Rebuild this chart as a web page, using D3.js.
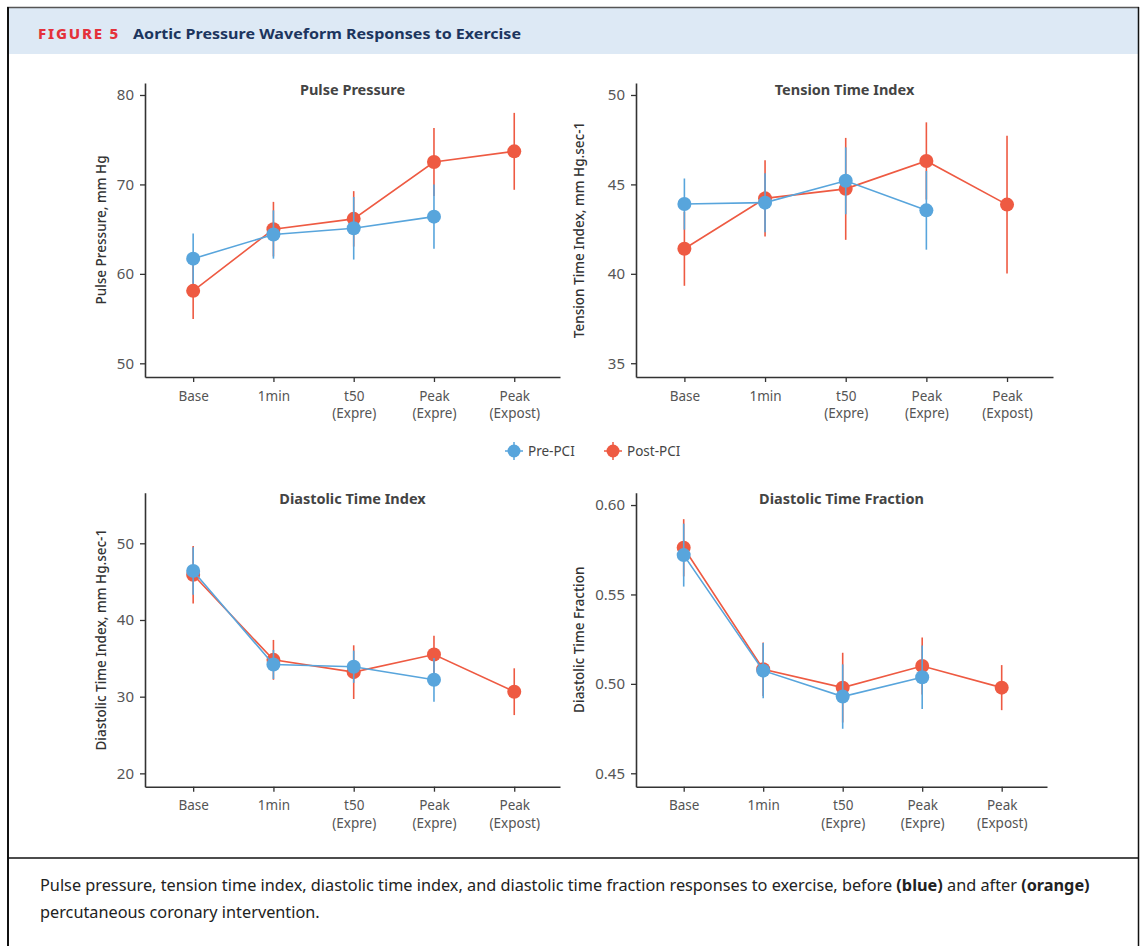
<!DOCTYPE html>
<html>
<head>
<meta charset="utf-8">
<script src="https://cdn.jsdelivr.net/npm/d3@7"></script>
<style>
  html, body { margin: 0; padding: 0; background: #fff; }
  svg { display: block; }
  text { font-family: "Noto Sans", "Open Sans", sans-serif; }
</style>
</head>
<body>
<svg id="fig" width="1142" height="946"></svg>
<script>
// Time points of the exercise protocol
const categories = ["Base", "1min", "t50\n(Expre)", "Peak\n(Expre)", "Peak\n(Expost)"];

// Pulse pressure (mm Hg): mean and error half-width
const ppPre      = [61.7, 64.4, 65.1, 66.4, null];
const ppPreErr   = [2.8, 2.7, 3.5, 3.6, null];
const ppPost     = [58.1, 65.0, 66.15, 72.5, 73.7];
const ppPostErr  = [3.15, 3.05, 3.1, 3.8, 4.3];

// Tension time index (mm Hg.sec-1)
const ttiPre     = [43.9, 43.98, 45.2, 43.55, null];
const ttiPreErr  = [1.43, 1.65, 1.87, 2.2, null];
const ttiPost    = [41.4, 44.22, 44.75, 46.31, 43.87];
const ttiPostErr = [2.07, 2.13, 2.85, 2.16, 3.85];

// Diastolic time index (mm Hg.sec-1)
const dtiPre     = [46.4, 34.2, 33.9, 32.2, null];
const dtiPreErr  = [3.1, 1.9, 2.1, 2.85, null];
const dtiPost    = [45.9, 34.8, 33.2, 35.5, 30.65];
const dtiPostErr = [3.75, 2.6, 3.5, 2.45, 3.05];

// Diastolic time fraction
const dtfPre     = [0.572, 0.5074, 0.4929, 0.5037, null];
const dtfPreErr  = [0.0176, 0.0154, 0.018, 0.0177, null];
const dtfPost    = [0.5761, 0.5082, 0.4979, 0.5100, 0.4979];
const dtfPostErr = [0.016, 0.015, 0.0195, 0.016, 0.0126];

// Axis ticks per panel
const ppTicks  = [50, 60, 70, 80];
const ttiTicks = [35, 40, 45, 50];
const dtiTicks = [20, 30, 40, 50];
const dtfTicks = [0.45, 0.50, 0.55, 0.60];

const seriesNames = ["Pre-PCI", "Post-PCI"];
const BLUE = "#58a5dc";
const RED  = "#ee5a42";

const svg = d3.select("#fig");

// ---------- frame and header ----------
svg.append("rect").attr("x", 8).attr("y", 8).attr("width", 1130).attr("height", 46)
  .attr("fill", "#dde9f5");
svg.append("line").attr("x1", 7).attr("x2", 1139).attr("y1", 7.5).attr("y2", 7.5)
  .attr("stroke", "#555").attr("stroke-width", 1.5);
svg.append("line").attr("x1", 8).attr("x2", 8).attr("y1", 7).attr("y2", 946)
  .attr("stroke", "#111").attr("stroke-width", 2);
svg.append("line").attr("x1", 1138.5).attr("x2", 1138.5).attr("y1", 7).attr("y2", 946)
  .attr("stroke", "#111").attr("stroke-width", 1.5);
svg.append("line").attr("x1", 8).attr("x2", 1139).attr("y1", 858).attr("y2", 858)
  .attr("stroke", "#111").attr("stroke-width", 1.5);

svg.append("text").attr("x", 38).attr("y", 38.5)
  .attr("fill", "#e4313b").attr("font-weight", 800).attr("font-size", 13.5)
  .attr("letter-spacing", 1.6)
  .attr("textLength", 82).attr("lengthAdjust", "spacingAndGlyphs")
  .text("FIGURE 5");
svg.append("text").attr("x", 133).attr("y", 38.5)
  .attr("fill", "#1c355e").attr("font-weight", 700).attr("font-size", 15)
  .attr("textLength", 388).attr("lengthAdjust", "spacingAndGlyphs")
  .text("Aortic Pressure Waveform Responses to Exercise");

// ---------- panels ----------
const panels = [
  { title: "Pulse Pressure", ylabel: "Pulse Pressure, mm Hg",
    pre: ppPre, preErr: ppPreErr, post: ppPost, postErr: ppPostErr,
    ticks: ppTicks, fmt: d3.format("d"), domain: [48.47, 81.34],
    x0: 145, x1: 560, y0: 83, y1: 377, labelX: 101 },
  { title: "Tension Time Index", ylabel: "Tension Time Index, mm Hg.sec-1",
    pre: ttiPre, preErr: ttiPreErr, post: ttiPost, postErr: ttiPostErr,
    ticks: ttiTicks, fmt: d3.format("d"), domain: [34.23, 50.67],
    x0: 636, x1: 1053, y0: 83, y1: 377, labelX: 579 },
  { title: "Diastolic Time Index", ylabel: "Diastolic Time Index, mm Hg.sec-1",
    pre: dtiPre, preErr: dtiPreErr, post: dtiPost, postErr: dtiPostErr,
    ticks: dtiTicks, fmt: d3.format("d"), domain: [18.26, 56.6],
    x0: 145, x1: 560, y0: 492.7, y1: 786.7, labelX: 101 },
  { title: "Diastolic Time Fraction", ylabel: "Diastolic Time Fraction",
    pre: dtfPre, preErr: dtfPreErr, post: dtfPost, postErr: dtfPostErr,
    ticks: dtfTicks, fmt: d3.format(".2f"), domain: [0.4425, 0.6069],
    x0: 636, x1: 1047, y0: 492.7, y1: 786.7, labelX: 579 }
];

panels.forEach(p => {
  const g = svg.append("g");
  const x = d3.scaleLinear().domain([-0.6, 4.57]).range([p.x0, p.x1]);
  const y = d3.scaleLinear().domain(p.domain).range([p.y1, p.y0]);

  // y axis
  const ya = g.append("g").attr("transform", `translate(${p.x0},0)`)
    .call(d3.axisLeft(y).tickValues(p.ticks).tickFormat(p.fmt).tickSize(5).tickSizeOuter(0).tickPadding(6));
  ya.select(".domain").attr("stroke", "#333").attr("stroke-width", 1.6);
  ya.selectAll(".tick line").attr("stroke", "#333").attr("stroke-width", 1.3);
  ya.selectAll(".tick text").attr("fill", "#555").attr("font-size", 15)
    .attr("font-family", "\"Noto Sans\", sans-serif");

  // x axis
  const xa = g.append("g").attr("transform", `translate(0,${p.y1})`)
    .call(d3.axisBottom(x).tickValues(d3.range(categories.length)).tickFormat(i => categories[i])
      .tickSize(5).tickSizeOuter(0).tickPadding(9));
  xa.select(".domain").attr("stroke", "#333").attr("stroke-width", 1.6);
  xa.selectAll(".tick line").attr("stroke", "#333").attr("stroke-width", 1.3);
  xa.selectAll(".tick text").each(function (i) {
    const t = d3.select(this);
    const lines = categories[i].split("\n");
    t.text(null).attr("fill", "#555").attr("font-size", 13.5)
      .attr("font-family", "\"Noto Sans\", sans-serif");
    lines.forEach((s, k) => {
      t.append("tspan").attr("x", 0).attr("dy", k === 0 ? "0.71em" : "1.3em").text(s);
    });
  });

  // titles
  g.append("text").attr("x", (p.x0 + p.x1) / 2).attr("y", p.y0 + 11.5)
    .attr("text-anchor", "middle").attr("fill", "#444")
    .attr("font-weight", 700).attr("font-size", 14.5).text(p.title);
  g.append("text")
    .attr("transform", `translate(${p.labelX},${(p.y0 + p.y1) / 2}) rotate(-90)`)
    .attr("text-anchor", "middle").attr("dominant-baseline", "central")
    .attr("fill", "#333").attr("font-weight", 500).attr("font-size", 13.5).text(p.ylabel);

  // series: Post first, Pre drawn over it
  const series = [
    { vals: p.post, err: p.postErr, color: RED },
    { vals: p.pre, err: p.preErr, color: BLUE }
  ];
  series.forEach(s => {
    const pts = s.vals.map((v, i) => ({ i, v, e: s.err[i] })).filter(d => d.v !== null);
    const sg = g.append("g");
    sg.selectAll("line.err").data(pts).join("line").attr("class", "err")
      .attr("x1", d => x(d.i)).attr("x2", d => x(d.i))
      .attr("y1", d => y(d.v - d.e)).attr("y2", d => y(d.v + d.e))
      .attr("stroke", s.color).attr("stroke-width", 1.6);
    sg.append("path").datum(pts)
      .attr("d", d3.line().x(d => x(d.i)).y(d => y(d.v)))
      .attr("fill", "none").attr("stroke", s.color).attr("stroke-width", 1.6);
    sg.selectAll("circle").data(pts).join("circle")
      .attr("cx", d => x(d.i)).attr("cy", d => y(d.v)).attr("r", 7)
      .attr("fill", s.color);
  });
});

// ---------- legend ----------
const legend = svg.append("g");
[{ name: seriesNames[0], color: BLUE, x: 514 }, { name: seriesNames[1], color: RED, x: 613 }]
  .forEach(l => {
    const lg = legend.append("g").attr("transform", `translate(${l.x},451)`);
    lg.append("line").attr("x1", -9).attr("x2", 9).attr("stroke", l.color).attr("stroke-width", 1.5);
    lg.append("line").attr("y1", -9).attr("y2", 9).attr("stroke", l.color).attr("stroke-width", 1.5);
    lg.append("circle").attr("r", 6.5).attr("fill", l.color);
    lg.append("text").attr("x", 14).attr("y", 0).attr("dominant-baseline", "central")
      .attr("fill", "#444").attr("font-size", 13.5).text(l.name);
  });

// ---------- caption ----------
const capLines = [
  [["Pulse pressure, tension time index, diastolic time index, and diastolic time fraction responses to exercise, before ", false],
   ["(blue)", true], [" and after ", false], ["(orange)", true]],
  [["percutaneous coronary intervention.", false]]
];
const capY = [891, 918];
const capTexts = capLines.map((parts, k) => {
  const t = svg.append("text").attr("x", 40).attr("y", capY[k])
    .attr("fill", "#222").attr("font-size", 14).attr("font-family", "\"Open Sans\", sans-serif");
  parts.forEach(([s, b]) => t.append("tspan").attr("font-weight", b ? 700 : 400).text(s));
  return t;
});
// fit the first caption line to the box width, then use the same size for the second
const w0 = capTexts[0].node().getComputedTextLength();
const fs = 14 * 1051 / w0;
capTexts.forEach(t => t.attr("font-size", fs));
</script>
</body>
</html>
